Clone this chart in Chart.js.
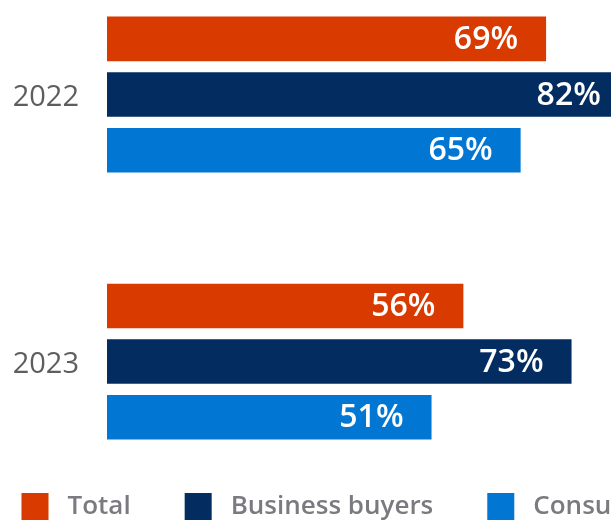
<!DOCTYPE html>
<html>
<head>
<meta charset="utf-8">
<script src="https://cdn.jsdelivr.net/npm/chart.js@4/dist/chart.umd.min.js"></script>
<style>
  html, body { margin: 0; padding: 0; background: #ffffff; overflow: hidden; }
  #wrap { position: absolute; left: 0; top: 0; }
</style>
</head>
<body>
<div id="wrap"><canvas id="c" width="611" height="536"></canvas></div>
<script>
// ---- data ----
const categories = ["2022", "2023"];
const seriesNames = ["Total", "Business buyers", "Consumers"];
const totalValues = [69, 56];
const businessValues = [82, 73];
const consumerValues = [65, 51];
const seriesColors = ["#D83A00", "#032D60", "#0176D3"];

const seriesValues = [totalValues, businessValues, consumerValues];

const valueLabels = {
  id: 'valueLabels',
  afterDatasetsDraw(chart) {
    const ctx = chart.ctx;
    ctx.save();
    ctx.font = '600 32px "Open Sans"';
    ctx.fillStyle = '#ffffff';
    ctx.textAlign = 'right';
    ctx.textBaseline = 'middle';
    chart.data.datasets.forEach((ds, i) => {
      const meta = chart.getDatasetMeta(i);
      meta.data.forEach((bar, j) => {
        ctx.fillText(ds.data[j].x + '%', bar.x - 28, bar.y + 1);
      });
    });
    ctx.restore();
  }
};

new Chart(document.getElementById('c'), {
  type: 'bar',
  data: {
    datasets: seriesNames.map((name, i) => ({
      label: name,
      data: seriesValues[i].map((v, j) => ({ x: v, y: j })),
      backgroundColor: seriesColors[i],
      borderWidth: 0,
      clip: false,
      categoryPercentage: 0.625,
      barPercentage: 0.8
    }))
  },
  options: {
    indexAxis: 'y',
    responsive: false,
    animation: false,
    layout: { padding: { top: 20, left: -32.5, right: -150, bottom: 0 } },
    scales: {
      x: { type: 'linear', display: false, min: 0, max: 79.2 },
      y: {
        type: 'linear',
        reverse: true,
        offset: false,
        min: -0.279,
        max: 1.29,
        grid: { display: false, drawTicks: false, offset: false },
        border: { display: false },
        afterBuildTicks: (scale) => { scale.ticks = categories.map((c, i) => ({ value: i })); },
        afterFit: (scale) => { scale.width = 139.5; scale.paddingTop = 0; scale.paddingBottom = 0; },
        ticks: {
          padding: 28,
          labelOffset: 3,
          color: '#5e5e5e',
          font: { family: '"Open Sans"', size: 29, weight: '400' },
          callback: (v) => categories[v]
        }
      }
    },
    plugins: {
      tooltip: { enabled: false },
      legend: {
        position: 'bottom',
        align: 'start',
        labels: {
          boxWidth: 39,
          boxHeight: 39,
          padding: 48,
          color: '#7a7a80',
          font: { family: '"Open Sans"', size: 26, weight: '600' },
          generateLabels: (chart) => chart.data.datasets.map((ds, i) => ({
            text: ds.label,
            fillStyle: seriesColors[i],
            strokeStyle: '#ffffff',
            lineWidth: 12,
            fontColor: '#7a7a80',
            hidden: false,
            datasetIndex: i
          }))
        }
      }
    }
  },
  plugins: [valueLabels]
});
</script>
</body>
</html>
